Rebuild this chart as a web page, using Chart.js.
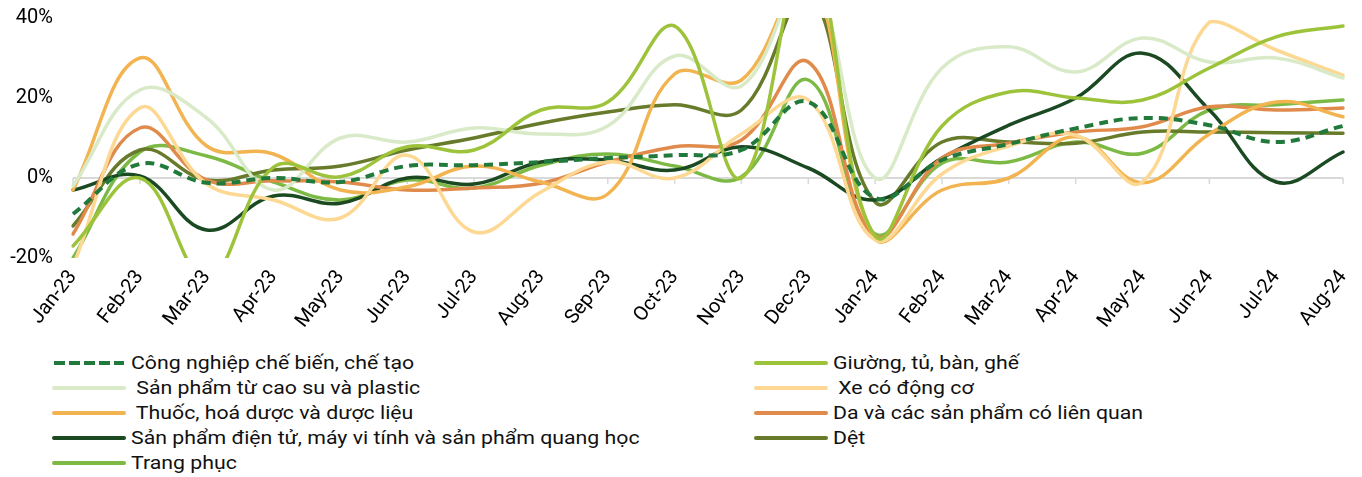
<!DOCTYPE html>
<html>
<head>
<meta charset="utf-8">
<script src="https://cdn.jsdelivr.net/npm/chart.js@4/dist/chart.umd.min.js"></script>
<style>
  html, body { margin: 0; padding: 0; background: #fff; }
  #wrap { position: relative; width: 1362px; height: 477px; overflow: hidden; }
  #plot { position: absolute; left: 0; top: 0; }
  .legcol { position: absolute; top: 350px; }
  .item { height: 25px; display: flex; align-items: center; font-family: Roboto, sans-serif; font-size: 19px; color: #111; white-space: pre; }
  .item svg { flex: none; margin-right: 4px; }
  .item span { display: inline-block; transform: scaleX(1.12); transform-origin: left center; }
</style>
</head>
<body>
<div id="wrap">
  <canvas id="plot" width="1362" height="345"></canvas>
  <div class="legcol" id="legLeft" style="left:51px"></div>
  <div class="legcol" id="legRight" style="left:753px"></div>
</div>
<script>
// Monthly labels on the category axis
const months = ['Jan-23','Feb-23','Mar-23','Apr-23','May-23','Jun-23','Jul-23','Aug-23','Sep-23','Oct-23','Nov-23','Dec-23',
                'Jan-24','Feb-24','Mar-24','Apr-24','May-24','Jun-24','Jul-24','Aug-24'];

// Y-axis tick values (percent)
const yTicks = [-20, 0, 20, 40];

// Growth by industry, % year on year
const congNghiep = [-9, 3.5, -1.2, 0, -1, 3, 3.2, 4, 5, 5.7, 7, 19, -5, 4.5, 8.5, 12.4, 15, 13.2, 9, 13];
const giuong     = [-17, 0, -25, 2.7, 0.3, 7.8, 7, 17, 19, 38, 0, 57, -14.5, 13, 21.5, 20, 19.5, 27.5, 35.3, 38];
const caoSu      = [-2, 22, 15, -3, 10, 9, 12.5, 11, 13, 30.5, 23, 51, 0, 27.5, 32.8, 26.5, 35, 29, 30, 25];
const xe         = [-22, 17.5, -1.5, -5.5, -10, 5.7, -13.5, -3.5, 4, 0, 11, 19.5, -15.5, 1, 8, 10.7, -1, 39, 32, 25.7];
const thuoc      = [-3, 30, 8, 6, -3, -2.2, 3, -1, -4, 26, 24.5, 51, -15, -3, 0, 10.3, -1.2, 11, 19, 15.3];
const da         = [-14, 12.5, -0.5, -0.7, -1, -3, -2.5, -1.3, 4, 7.8, 9.5, 29, -14.5, 5, 8.7, 11.5, 12.8, 17.8, 17, 17.5];
const dienTu     = [-3, 0.5, -13, -4.5, -6.3, 0, -1.5, 4, 4.5, 2, 7.8, 2.5, -5.5, 5, 13.2, 20, 31.2, 17, -1, 6.5];
const det        = [-12, 7, -0.5, 2, 3, 7, 10, 13.7, 16.5, 18.3, 17, 46, -6, 9, 9, 8.7, 11.5, 11.5, 11.3, 11.2];
const trangPhuc  = [-20, 6.5, 5.5, -1, -5.5, -0.5, -2.5, 3.2, 6, 3, 0.3, 24.5, -14, 3.7, 4, 9, 6.2, 17, 18.3, 19.5];

// Series definitions: label, values, colour, dashed?, legend column
const series = [
  { label: 'Công nghiệp chế biến, chế tạo', data: congNghiep, color: '#217a3c', dash: true, col: 'L' },
  { label: 'Giường, tủ, bàn, ghế', data: giuong, color: '#9dc33b', col: 'R' },
  { label: ' Sản phẩm từ cao su và plastic', data: caoSu, color: '#d9eac8', col: 'L' },
  { label: ' Xe có động cơ', data: xe, color: '#fdd893', col: 'R' },
  { label: ' Thuốc, hoá dược và dược liệu', data: thuoc, color: '#f2b450', col: 'L' },
  { label: 'Da và các sản phẩm có liên quan', data: da, color: '#e08b4c', col: 'R' },
  { label: 'Sản phẩm điện tử, máy vi tính và sản phẩm quang học', data: dienTu, color: '#1b4a22', col: 'L' },
  { label: 'Dệt', data: det, color: '#677b2a', col: 'R' },
  { label: 'Trang phục', data: trangPhuc, color: '#7cba45', col: 'L' }
];

const datasets = series.map(s => ({
  label: s.label,
  data: s.data,
  borderColor: s.color,
  backgroundColor: s.color,
  borderWidth: s.dash ? 4 : 3.5,
  borderDash: s.dash ? [9, 6] : [],
  borderCapStyle: s.dash ? 'butt' : 'round',
  tension: 0.4,
  pointRadius: 0,
  fill: false
}));

// Grey baseline at 0% with short tick marks under each month
const zeroBaseline = {
  id: 'zeroBaseline',
  beforeDatasetsDraw(chart) {
    const { ctx, chartArea, scales: { x, y } } = chart;
    const y0 = y.getPixelForValue(0);
    ctx.save();
    ctx.strokeStyle = '#d9d9d9';
    ctx.lineWidth = 2;
    ctx.beginPath();
    ctx.moveTo(chartArea.left, y0);
    ctx.lineTo(chartArea.right, y0);
    ctx.stroke();
    ctx.lineWidth = 1.5;
    ctx.beginPath();
    x.ticks.forEach((t, i) => {
      const px = x.getPixelForTick(i);
      ctx.moveTo(px, y0);
      ctx.lineTo(px, y0 + 6);
    });
    ctx.stroke();
    ctx.restore();
  }
};

new Chart(document.getElementById('plot'), {
  type: 'line',
  data: { labels: months, datasets },
  plugins: [zeroBaseline],
  options: {
    responsive: false,
    animation: false,
    layout: { padding: { left: 0, right: 12, top: 18, bottom: 0 } },
    plugins: { legend: { display: false }, tooltip: { enabled: false } },
    scales: {
      x: {
        type: 'category',
        offset: false,
        grid: { display: false },
        border: { display: false },
        ticks: {
          autoSkip: false, minRotation: 52, maxRotation: 52, padding: 0,
          color: '#000', font: { family: 'Roboto', size: 20 }
        },
        afterFit(s) { s.height = 87; s.paddingTop = 0; s.paddingBottom = 0; }
      },
      y: {
        min: -20, max: 40,
        afterBuildTicks(s) { s.ticks = yTicks.map(v => ({ value: v })); },
        grid: { display: false, drawTicks: false },
        border: { display: false },
        ticks: {
          padding: 20, color: '#000',
          font: { family: 'Roboto', size: 20 },
          callback: v => v + '%'
        },
        afterFit(s) { s.width = 73; s.paddingTop = 0; s.paddingBottom = 0; }
      }
    }
  }
});

// Two-column legend built from the series list
function legendItem(s) {
  const d = document.createElement('div');
  d.className = 'item';
  const dashAttr = s.dash ? ' stroke-dasharray="11 4"' : '';
  const cap = s.dash ? 'butt' : 'round';
  d.innerHTML = '<svg width="76" height="10"><line x1="3" y1="5" x2="73" y2="5" stroke="' + s.color +
    '" stroke-width="4" stroke-linecap="' + cap + '"' + dashAttr + '/></svg>';
  const t = document.createElement('span');
  t.textContent = s.label;
  d.appendChild(t);
  return d;
}
const left = document.getElementById('legLeft');
const right = document.getElementById('legRight');
series.forEach(s => (s.col === 'L' ? left : right).appendChild(legendItem(s)));
</script>
</body>
</html>
